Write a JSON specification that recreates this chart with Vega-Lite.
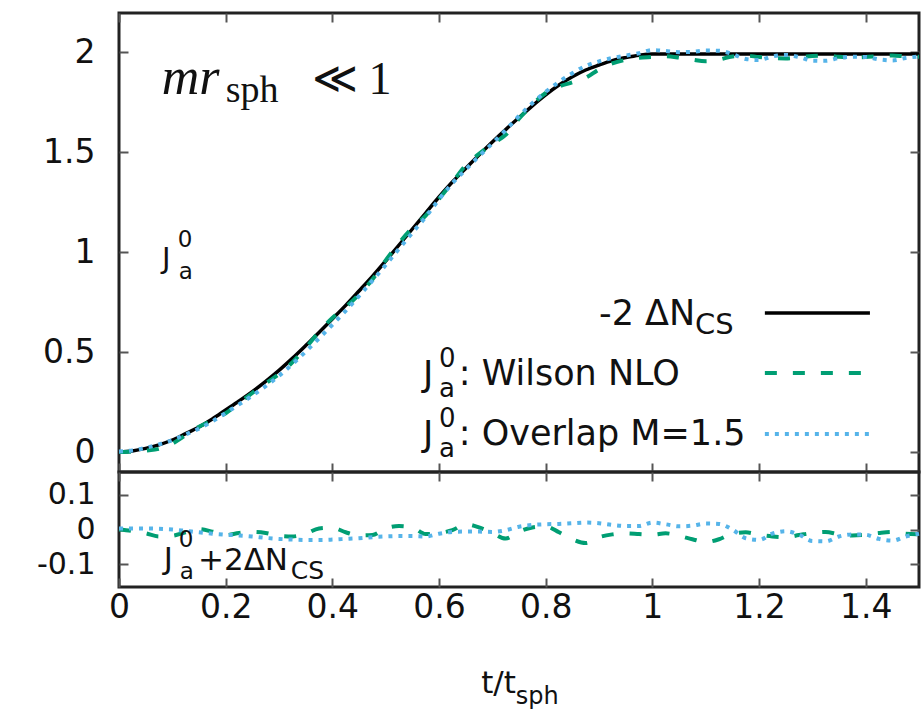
{
  "$schema": "https://vega.github.io/schema/vega-lite/v6.json",
  "background": "white",
  "padding": {"left": 34, "top": 10, "right": 0, "bottom": 0},
  "spacing": 0,
  "bounds": "flush",
  "config": {
    "view": {"stroke": "#222", "strokeWidth": 3},
    "axis": {"labelFont": "DejaVu Sans", "labelFontSize": 33, "labelColor": "#111", "tickColor": "#555", "tickWidth": 2, "tickSize": -9, "domain": false, "grid": false, "labelFlush": false, "labelOverlap": false, "labelBound": false},
    "axisY": {"labelPadding": 33},
    "axisX": {"labelPadding": 13},
    "text": {"font": "DejaVu Sans", "color": "#111", "align": "left", "baseline": "alphabetic"}
  },
  "datasets": {
    "curves": [
      {"t": 0, "minus2dNcs": 0, "J_wilson": 0, "J_overlap": 0.003, "res_wilson": 0, "res_overlap": 0.003},
      {"t": 0.025, "minus2dNcs": 0.005, "J_wilson": 0.001, "J_overlap": 0.008, "res_wilson": -0.004, "res_overlap": 0.003},
      {"t": 0.05, "minus2dNcs": 0.018, "J_wilson": 0.007, "J_overlap": 0.021, "res_wilson": -0.011, "res_overlap": 0.003},
      {"t": 0.075, "minus2dNcs": 0.036, "J_wilson": 0.016, "J_overlap": 0.038, "res_wilson": -0.02, "res_overlap": 0.002},
      {"t": 0.1, "minus2dNcs": 0.06, "J_wilson": 0.042, "J_overlap": 0.06, "res_wilson": -0.018, "res_overlap": 0},
      {"t": 0.125, "minus2dNcs": 0.092, "J_wilson": 0.084, "J_overlap": 0.088, "res_wilson": -0.008, "res_overlap": -0.004},
      {"t": 0.15, "minus2dNcs": 0.125, "J_wilson": 0.126, "J_overlap": 0.117, "res_wilson": 0.001, "res_overlap": -0.008},
      {"t": 0.175, "minus2dNcs": 0.165, "J_wilson": 0.159, "J_overlap": 0.153, "res_wilson": -0.006, "res_overlap": -0.012},
      {"t": 0.2, "minus2dNcs": 0.21, "J_wilson": 0.194, "J_overlap": 0.195, "res_wilson": -0.016, "res_overlap": -0.015},
      {"t": 0.225, "minus2dNcs": 0.255, "J_wilson": 0.245, "J_overlap": 0.238, "res_wilson": -0.01, "res_overlap": -0.017},
      {"t": 0.25, "minus2dNcs": 0.302, "J_wilson": 0.295, "J_overlap": 0.282, "res_wilson": -0.007, "res_overlap": -0.02},
      {"t": 0.275, "minus2dNcs": 0.353, "J_wilson": 0.343, "J_overlap": 0.329, "res_wilson": -0.01, "res_overlap": -0.024},
      {"t": 0.3, "minus2dNcs": 0.408, "J_wilson": 0.39, "J_overlap": 0.381, "res_wilson": -0.018, "res_overlap": -0.027},
      {"t": 0.325, "minus2dNcs": 0.468, "J_wilson": 0.448, "J_overlap": 0.439, "res_wilson": -0.02, "res_overlap": -0.029},
      {"t": 0.35, "minus2dNcs": 0.532, "J_wilson": 0.52, "J_overlap": 0.502, "res_wilson": -0.012, "res_overlap": -0.03},
      {"t": 0.375, "minus2dNcs": 0.598, "J_wilson": 0.601, "J_overlap": 0.568, "res_wilson": 0.003, "res_overlap": -0.03},
      {"t": 0.4, "minus2dNcs": 0.665, "J_wilson": 0.67, "J_overlap": 0.636, "res_wilson": 0.005, "res_overlap": -0.029},
      {"t": 0.425, "minus2dNcs": 0.733, "J_wilson": 0.725, "J_overlap": 0.706, "res_wilson": -0.008, "res_overlap": -0.027},
      {"t": 0.45, "minus2dNcs": 0.805, "J_wilson": 0.788, "J_overlap": 0.78, "res_wilson": -0.017, "res_overlap": -0.025},
      {"t": 0.475, "minus2dNcs": 0.878, "J_wilson": 0.862, "J_overlap": 0.856, "res_wilson": -0.016, "res_overlap": -0.022},
      {"t": 0.5, "minus2dNcs": 0.955, "J_wilson": 0.958, "J_overlap": 0.935, "res_wilson": 0.003, "res_overlap": -0.02},
      {"t": 0.525, "minus2dNcs": 1.035, "J_wilson": 1.045, "J_overlap": 1.016, "res_wilson": 0.01, "res_overlap": -0.019},
      {"t": 0.55, "minus2dNcs": 1.115, "J_wilson": 1.121, "J_overlap": 1.096, "res_wilson": 0.006, "res_overlap": -0.019},
      {"t": 0.575, "minus2dNcs": 1.195, "J_wilson": 1.182, "J_overlap": 1.175, "res_wilson": -0.013, "res_overlap": -0.02},
      {"t": 0.6, "minus2dNcs": 1.275, "J_wilson": 1.265, "J_overlap": 1.263, "res_wilson": -0.01, "res_overlap": -0.012},
      {"t": 0.625, "minus2dNcs": 1.35, "J_wilson": 1.348, "J_overlap": 1.343, "res_wilson": -0.002, "res_overlap": -0.007},
      {"t": 0.65, "minus2dNcs": 1.418, "J_wilson": 1.433, "J_overlap": 1.412, "res_wilson": 0.015, "res_overlap": -0.006},
      {"t": 0.675, "minus2dNcs": 1.485, "J_wilson": 1.491, "J_overlap": 1.479, "res_wilson": 0.006, "res_overlap": -0.006},
      {"t": 0.7, "minus2dNcs": 1.55, "J_wilson": 1.54, "J_overlap": 1.543, "res_wilson": -0.01, "res_overlap": -0.007},
      {"t": 0.725, "minus2dNcs": 1.612, "J_wilson": 1.586, "J_overlap": 1.61, "res_wilson": -0.026, "res_overlap": -0.002},
      {"t": 0.75, "minus2dNcs": 1.672, "J_wilson": 1.666, "J_overlap": 1.68, "res_wilson": -0.006, "res_overlap": 0.008},
      {"t": 0.775, "minus2dNcs": 1.731, "J_wilson": 1.737, "J_overlap": 1.744, "res_wilson": 0.006, "res_overlap": 0.013},
      {"t": 0.8, "minus2dNcs": 1.786, "J_wilson": 1.795, "J_overlap": 1.801, "res_wilson": 0.009, "res_overlap": 0.015},
      {"t": 0.825, "minus2dNcs": 1.835, "J_wilson": 1.827, "J_overlap": 1.851, "res_wilson": -0.008, "res_overlap": 0.016},
      {"t": 0.85, "minus2dNcs": 1.876, "J_wilson": 1.848, "J_overlap": 1.894, "res_wilson": -0.028, "res_overlap": 0.018},
      {"t": 0.875, "minus2dNcs": 1.91, "J_wilson": 1.871, "J_overlap": 1.93, "res_wilson": -0.039, "res_overlap": 0.02},
      {"t": 0.9, "minus2dNcs": 1.935, "J_wilson": 1.913, "J_overlap": 1.953, "res_wilson": -0.022, "res_overlap": 0.018},
      {"t": 0.925, "minus2dNcs": 1.957, "J_wilson": 1.943, "J_overlap": 1.97, "res_wilson": -0.014, "res_overlap": 0.013},
      {"t": 0.95, "minus2dNcs": 1.972, "J_wilson": 1.961, "J_overlap": 1.982, "res_wilson": -0.011, "res_overlap": 0.01},
      {"t": 0.975, "minus2dNcs": 1.984, "J_wilson": 1.971, "J_overlap": 1.994, "res_wilson": -0.013, "res_overlap": 0.01},
      {"t": 1.0, "minus2dNcs": 1.99, "J_wilson": 1.975, "J_overlap": 2.01, "res_wilson": -0.015, "res_overlap": 0.02},
      {"t": 1.025, "minus2dNcs": 1.99, "J_wilson": 1.979, "J_overlap": 2.005, "res_wilson": -0.011, "res_overlap": 0.015},
      {"t": 1.05, "minus2dNcs": 1.99, "J_wilson": 1.972, "J_overlap": 1.999, "res_wilson": -0.018, "res_overlap": 0.009},
      {"t": 1.075, "minus2dNcs": 1.99, "J_wilson": 1.962, "J_overlap": 2.001, "res_wilson": -0.028, "res_overlap": 0.011},
      {"t": 1.1, "minus2dNcs": 1.99, "J_wilson": 1.954, "J_overlap": 2.007, "res_wilson": -0.036, "res_overlap": 0.017},
      {"t": 1.125, "minus2dNcs": 1.99, "J_wilson": 1.962, "J_overlap": 2.006, "res_wilson": -0.028, "res_overlap": 0.016},
      {"t": 1.15, "minus2dNcs": 1.99, "J_wilson": 1.978, "J_overlap": 1.99, "res_wilson": -0.012, "res_overlap": 0},
      {"t": 1.175, "minus2dNcs": 1.99, "J_wilson": 1.982, "J_overlap": 1.965, "res_wilson": -0.008, "res_overlap": -0.025},
      {"t": 1.2, "minus2dNcs": 1.99, "J_wilson": 1.975, "J_overlap": 1.96, "res_wilson": -0.015, "res_overlap": -0.03},
      {"t": 1.225, "minus2dNcs": 1.99, "J_wilson": 1.97, "J_overlap": 1.978, "res_wilson": -0.02, "res_overlap": -0.012},
      {"t": 1.25, "minus2dNcs": 1.99, "J_wilson": 1.968, "J_overlap": 1.985, "res_wilson": -0.022, "res_overlap": -0.005},
      {"t": 1.275, "minus2dNcs": 1.99, "J_wilson": 1.974, "J_overlap": 1.975, "res_wilson": -0.016, "res_overlap": -0.015},
      {"t": 1.3, "minus2dNcs": 1.99, "J_wilson": 1.98, "J_overlap": 1.957, "res_wilson": -0.01, "res_overlap": -0.033},
      {"t": 1.325, "minus2dNcs": 1.99, "J_wilson": 1.983, "J_overlap": 1.956, "res_wilson": -0.007, "res_overlap": -0.034},
      {"t": 1.35, "minus2dNcs": 1.99, "J_wilson": 1.976, "J_overlap": 1.97, "res_wilson": -0.014, "res_overlap": -0.02},
      {"t": 1.375, "minus2dNcs": 1.99, "J_wilson": 1.973, "J_overlap": 1.976, "res_wilson": -0.017, "res_overlap": -0.014},
      {"t": 1.4, "minus2dNcs": 1.99, "J_wilson": 1.975, "J_overlap": 1.975, "res_wilson": -0.015, "res_overlap": -0.015},
      {"t": 1.425, "minus2dNcs": 1.99, "J_wilson": 1.98, "J_overlap": 1.963, "res_wilson": -0.01, "res_overlap": -0.027},
      {"t": 1.45, "minus2dNcs": 1.99, "J_wilson": 1.983, "J_overlap": 1.958, "res_wilson": -0.007, "res_overlap": -0.032},
      {"t": 1.475, "minus2dNcs": 1.99, "J_wilson": 1.978, "J_overlap": 1.97, "res_wilson": -0.012, "res_overlap": -0.02},
      {"t": 1.5, "minus2dNcs": 1.99, "J_wilson": 1.976, "J_overlap": 1.978, "res_wilson": -0.014, "res_overlap": -0.012}
    ]
  },
  "vconcat": [
    {
      "width": 800,
      "height": 459,
      "data": {"name": "curves"},
      "layer": [
        {
          "mark": {"type": "line", "color": "#000000", "strokeWidth": 3.5, "interpolate": "monotone"},
          "encoding": {
            "x": {"field": "t", "type": "quantitative", "scale": {"domain": [0, 1.5], "nice": false, "zero": false}, "axis": {"orient": "bottom", "values": [0, 0.2, 0.4, 0.6, 0.8, 1, 1.2, 1.4], "labels": false, "title": null}},
            "y": {"field": "minus2dNcs", "type": "quantitative", "scale": {"domain": [-0.1, 2.195], "nice": false, "zero": false}, "axis": {"orient": "left", "values": [0, 0.5, 1, 1.5, 2], "format": "~g", "title": null}}
          }
        },
        {
          "mark": {"type": "line", "color": "#009e73", "strokeWidth": 4, "strokeDash": [12, 16], "interpolate": "monotone"},
          "encoding": {
            "x": {"field": "t", "type": "quantitative", "axis": {"orient": "top", "values": [0, 0.2, 0.4, 0.6, 0.8, 1, 1.2, 1.4], "labels": false, "title": null}},
            "y": {"field": "J_wilson", "type": "quantitative", "axis": {"orient": "right", "values": [0, 0.5, 1, 1.5, 2], "labels": false, "title": null}}
          }
        },
        {
          "mark": {"type": "line", "color": "#56b4e9", "strokeWidth": 4, "strokeDash": [4, 6], "interpolate": "monotone"},
          "encoding": {
            "x": {"field": "t", "type": "quantitative", "axis": null},
            "y": {"field": "J_overlap", "type": "quantitative", "axis": null}
          }
        },
        {"data": {"values": [{}]}, "mark": {"type": "text", "text": "mr", "font": "Liberation Serif", "fontStyle": "italic", "fontSize": 52}, "encoding": {"x": {"datum": 0.08, "type": "quantitative", "axis": null}, "y": {"datum": 1.79, "type": "quantitative", "axis": null}}},
        {"data": {"values": [{}]}, "mark": {"type": "text", "text": "sph", "font": "Liberation Serif", "fontSize": 38}, "encoding": {"x": {"datum": 0.2, "type": "quantitative", "axis": null}, "y": {"datum": 1.75, "type": "quantitative", "axis": null}}},
        {"data": {"values": [{}]}, "mark": {"type": "text", "text": "≪", "font": "DejaVu Serif", "fontSize": 44}, "encoding": {"x": {"datum": 0.362, "type": "quantitative", "axis": null}, "y": {"datum": 1.795, "type": "quantitative", "axis": null}}},
        {"data": {"values": [{}]}, "mark": {"type": "text", "text": "1", "font": "Liberation Serif", "fontSize": 46}, "encoding": {"x": {"datum": 0.468, "type": "quantitative", "axis": null}, "y": {"datum": 1.79, "type": "quantitative", "axis": null}}},
        {"data": {"values": [{}]}, "mark": {"type": "text", "text": "J", "fontSize": 29}, "encoding": {"x": {"datum": 0.0806, "type": "quantitative", "axis": null}, "y": {"datum": 0.92, "type": "quantitative", "axis": null}}},
        {"data": {"values": [{}]}, "mark": {"type": "text", "text": "0", "fontSize": 23}, "encoding": {"x": {"datum": 0.11, "type": "quantitative", "axis": null}, "y": {"datum": 1.025, "type": "quantitative", "axis": null}}},
        {"data": {"values": [{}]}, "mark": {"type": "text", "text": "a", "fontSize": 23}, "encoding": {"x": {"datum": 0.112, "type": "quantitative", "axis": null}, "y": {"datum": 0.865, "type": "quantitative", "axis": null}}},
        {"data": {"values": [{}]}, "mark": {"type": "text", "text": "-2 ΔN", "fontSize": 35}, "encoding": {"x": {"datum": 0.9, "type": "quantitative", "axis": null}, "y": {"datum": 0.635, "type": "quantitative", "axis": null}}},
        {"data": {"values": [{}]}, "mark": {"type": "text", "text": "CS", "fontSize": 29}, "encoding": {"x": {"datum": 1.08, "type": "quantitative", "axis": null}, "y": {"datum": 0.59, "type": "quantitative", "axis": null}}},
        {"data": {"values": [{}]}, "mark": {"type": "text", "text": "J", "fontSize": 35}, "encoding": {"x": {"datum": 0.57, "type": "quantitative", "axis": null}, "y": {"datum": 0.33, "type": "quantitative", "axis": null}}},
        {"data": {"values": [{}]}, "mark": {"type": "text", "text": "0", "fontSize": 26}, "encoding": {"x": {"datum": 0.6, "type": "quantitative", "axis": null}, "y": {"datum": 0.425, "type": "quantitative", "axis": null}}},
        {"data": {"values": [{}]}, "mark": {"type": "text", "text": "a", "fontSize": 26}, "encoding": {"x": {"datum": 0.6, "type": "quantitative", "axis": null}, "y": {"datum": 0.275, "type": "quantitative", "axis": null}}},
        {"data": {"values": [{}]}, "mark": {"type": "text", "text": ": Wilson NLO", "fontSize": 35}, "encoding": {"x": {"datum": 0.637, "type": "quantitative", "axis": null}, "y": {"datum": 0.335, "type": "quantitative", "axis": null}}},
        {"data": {"values": [{}]}, "mark": {"type": "text", "text": "J", "fontSize": 35}, "encoding": {"x": {"datum": 0.57, "type": "quantitative", "axis": null}, "y": {"datum": 0.03, "type": "quantitative", "axis": null}}},
        {"data": {"values": [{}]}, "mark": {"type": "text", "text": "0", "fontSize": 26}, "encoding": {"x": {"datum": 0.6, "type": "quantitative", "axis": null}, "y": {"datum": 0.125, "type": "quantitative", "axis": null}}},
        {"data": {"values": [{}]}, "mark": {"type": "text", "text": "a", "fontSize": 26}, "encoding": {"x": {"datum": 0.6, "type": "quantitative", "axis": null}, "y": {"datum": -0.025, "type": "quantitative", "axis": null}}},
        {"data": {"values": [{}]}, "mark": {"type": "text", "text": ": Overlap M=1.5", "fontSize": 35}, "encoding": {"x": {"datum": 0.637, "type": "quantitative", "axis": null}, "y": {"datum": 0.035, "type": "quantitative", "axis": null}}},
        {"data": {"values": [{}]}, "mark": {"type": "rule", "color": "#000000", "strokeWidth": 3.5}, "encoding": {"x": {"datum": 1.211, "type": "quantitative", "axis": null}, "x2": {"datum": 1.408}, "y": {"datum": 0.695, "type": "quantitative", "axis": null}}},
        {"data": {"values": [{}]}, "mark": {"type": "rule", "color": "#009e73", "strokeWidth": 4, "strokeDash": [12, 16]}, "encoding": {"x": {"datum": 1.211, "type": "quantitative", "axis": null}, "x2": {"datum": 1.408}, "y": {"datum": 0.395, "type": "quantitative", "axis": null}}},
        {"data": {"values": [{}]}, "mark": {"type": "rule", "color": "#56b4e9", "strokeWidth": 4, "strokeDash": [4, 6]}, "encoding": {"x": {"datum": 1.211, "type": "quantitative", "axis": null}, "x2": {"datum": 1.408}, "y": {"datum": 0.09, "type": "quantitative", "axis": null}}}
      ],
      "resolve": {"axis": {"x": "independent", "y": "independent"}}
    },
    {
      "width": 800,
      "height": 115,
      "data": {"name": "curves"},
      "layer": [
        {
          "mark": {"type": "line", "color": "#009e73", "strokeWidth": 4, "strokeDash": [12, 16], "interpolate": "monotone"},
          "encoding": {
            "x": {"field": "t", "type": "quantitative", "scale": {"domain": [0, 1.5], "nice": false, "zero": false}, "axis": {"orient": "bottom", "values": [0, 0.2, 0.4, 0.6, 0.8, 1, 1.2, 1.4], "format": "~g", "title": null}},
            "y": {"field": "res_wilson", "type": "quantitative", "scale": {"domain": [-0.165, 0.165], "nice": false, "zero": false}, "axis": {"orient": "left", "values": [-0.1, 0, 0.1], "format": "~g", "labelFontSize": 30, "labelExpr": "replace(datum.label, '−', '-')", "title": null}}
          }
        },
        {
          "mark": {"type": "line", "color": "#56b4e9", "strokeWidth": 4, "strokeDash": [4, 6], "interpolate": "monotone"},
          "encoding": {
            "x": {"field": "t", "type": "quantitative", "axis": {"orient": "top", "values": [0, 0.2, 0.4, 0.6, 0.8, 1, 1.2, 1.4], "labels": false, "title": null}},
            "y": {"field": "res_overlap", "type": "quantitative", "axis": {"orient": "right", "values": [-0.1, 0, 0.1], "labels": false, "title": null}}
          }
        },
        {"data": {"values": [{}]}, "mark": {"type": "text", "text": "J", "fontSize": 31}, "encoding": {"x": {"datum": 0.084, "type": "quantitative", "axis": null}, "y": {"datum": -0.113, "type": "quantitative", "axis": null}}},
        {"data": {"values": [{}]}, "mark": {"type": "text", "text": "0", "fontSize": 23}, "encoding": {"x": {"datum": 0.112, "type": "quantitative", "axis": null}, "y": {"datum": -0.05, "type": "quantitative", "axis": null}}},
        {"data": {"values": [{}]}, "mark": {"type": "text", "text": "a", "fontSize": 23}, "encoding": {"x": {"datum": 0.114, "type": "quantitative", "axis": null}, "y": {"datum": -0.142, "type": "quantitative", "axis": null}}},
        {"data": {"values": [{}]}, "mark": {"type": "text", "text": "+2ΔN", "fontSize": 31}, "encoding": {"x": {"datum": 0.148, "type": "quantitative", "axis": null}, "y": {"datum": -0.116, "type": "quantitative", "axis": null}}},
        {"data": {"values": [{}]}, "mark": {"type": "text", "text": "CS", "fontSize": 25}, "encoding": {"x": {"datum": 0.322, "type": "quantitative", "axis": null}, "y": {"datum": -0.142, "type": "quantitative", "axis": null}}},
        {"data": {"values": [{}]}, "mark": {"type": "text", "text": "t/t", "fontSize": 31}, "encoding": {"x": {"datum": 0.679, "type": "quantitative", "axis": null}, "y": {"datum": -0.47, "type": "quantitative", "axis": null}}},
        {"data": {"values": [{}]}, "mark": {"type": "text", "text": "sph", "fontSize": 24}, "encoding": {"x": {"datum": 0.744, "type": "quantitative", "axis": null}, "y": {"datum": -0.5, "type": "quantitative", "axis": null}}}
      ],
      "resolve": {"axis": {"x": "independent", "y": "independent"}}
    }
  ]
}
